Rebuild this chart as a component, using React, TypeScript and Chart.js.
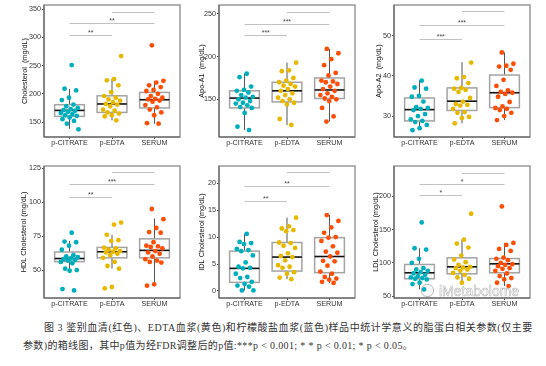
import React, { useEffect, useRef } from "react";
import { Chart, registerables } from "chart.js";
Chart.register(...registerables);

// ---------- shared ----------
const groups = ["p-CITRATE", "p-EDTA", "SERUM"];
const groupColors = ["#00AFBB", "#E7B800", "#FC4E07"];
const bracketPairs = [[0, 1], [0, 2], [1, 2]];

// ---------- Panel 1: Cholesterol ----------
const cholTitle = "Cholesterol  (mg/dL)";
const cholTicks = [150, 200, 250, 300, 350];
const cholRange = [123.4, 357.6];
const cholCitrate = [251, 209, 206, 193, 189, 181, 178, 175, 173, 171, 170, 168, 166, 164, 162, 161, 158, 155, 152, 147, 137];
const cholEdta = [267, 226, 224, 215, 203, 196, 193, 190, 188, 185, 182, 181, 178, 172, 170, 167, 165, 162, 160, 153];
const cholSerum = [286, 223, 220, 215, 212, 207, 205, 200, 196, 193, 191, 190, 188, 186, 180, 176, 172, 167, 162, 148, 147];
const cholBoxCitrate = [138, 160, 170.6, 180.7, 208.5];
const cholBoxEdta = [153, 167, 182, 196.5, 226];
const cholBoxSerum = [147, 175, 189.5, 202.5, 223];
const cholBrackets = [305, 326, 345];
const cholStars = ["**", "**", ""];

// ---------- Panel 2: Apo-A1 ----------
const a1Title = "Apo-A1  (mg/dL)";
const a1Ticks = [150, 200, 250];
const a1Range = [105.9, 260.5];
const a1Citrate = [180, 176, 165, 161, 160, 158, 155, 153, 152, 150, 148, 146, 145, 143, 141, 140, 134, 118, 114];
const a1Edta = [193, 184, 183, 175, 172, 170, 168, 166, 165, 162, 160, 157, 155, 152, 150, 148, 146, 144, 127, 120];
const a1Serum = [209, 204, 197, 190, 181, 178, 172, 171, 170, 168, 165, 162, 160, 157, 155, 153, 151, 150, 148, 140, 130, 124];
const a1BoxCitrate = [114, 140, 151.5, 160, 180];
const a1BoxEdta = [120, 147, 160, 170, 193];
const a1BoxSerum = [124, 151, 161, 175, 209];
const a1Brackets = [225, 238, 252.7];
const a1Stars = ["***", "***", ""];

// ---------- Panel 3: Apo-A2 ----------
const a2Title = "Apo-A2  (mg/dL)";
const a2Ticks = [30, 40, 50];
const a2Range = [24.8, 57.6];
const a2Citrate = [38.8, 37.1, 36.8, 35, 34.8, 33.6, 32.2, 32, 31.8, 31.5, 30.5, 30, 29.2, 28.8, 28.5, 27.8, 27, 26.5];
const a2Edta = [43.3, 39.7, 39.4, 38.2, 37, 36.8, 36.5, 36, 34.5, 33.6, 33, 32.8, 32.6, 31.8, 31, 30.8, 29.8, 29.5, 28.2];
const a2Serum = [45.8, 43, 42.5, 42.3, 41.5, 39, 37.5, 36.4, 36, 35.8, 35.5, 34.8, 33.5, 32.4, 32, 31.8, 31.5, 30.8, 30, 29];
const a2BoxCitrate = [26.5, 28.8, 31.6, 34.5, 38.9];
const a2BoxEdta = [28.2, 31.4, 33.7, 37, 43.4];
const a2BoxSerum = [29, 32.1, 35.8, 40.2, 45.8];
const a2Brackets = [49.2, 52.6, 56];
const a2Stars = ["***", "***", ""];

// ---------- Panel 4: HDL ----------
const hdlTitle = "HDL Cholesterol (mg/dL)";
const hdlTicks = [50, 75, 100, 125];
const hdlRange = [29.4, 126.7];
const hdlCitrate = [77.5, 71, 70.5, 68, 65, 61, 60, 59.5, 58.5, 58, 57.5, 57, 56, 55, 51, 50, 49.5, 36, 35];
const hdlEdta = [85, 83.5, 76, 72, 71.5, 66.5, 66, 65, 64, 63.5, 63, 62, 61, 59, 56, 53, 51, 37.5, 36.5];
const hdlSerum = [95, 87.5, 81, 78, 77.5, 70.5, 68, 67.5, 67, 66, 64, 63, 62, 60, 58, 57, 56, 55.5, 39.5, 38.5];
const hdlBoxCitrate = [49.5, 56.2, 58.5, 63.3, 71.5];
const hdlBoxEdta = [51, 59, 63.5, 66.7, 76];
const hdlBoxSerum = [39.5, 59, 64.5, 73, 88];
const hdlBrackets = [104, 113.4, 122];
const hdlStars = ["**", "***", ""];

// ---------- Panel 5: IDL ----------
const idlTitle = "IDL Cholesterol (mg/dL)";
const idlTicks = [0, 5, 10, 15, 20];
const idlRange = [-1.3, 23.2];
const idlCitrate = [10.6, 9.1, 8.9, 8.7, 7.8, 7.6, 7.4, 6.6, 5.3, 4.5, 4.3, 4.2, 3.2, 2.6, 2.4, 1.7, 1.3, 1.0, 0.8, 0.1, 0.1];
const idlEdta = [13.6, 12, 11.6, 11.3, 11.1, 9.0, 8.9, 8.4, 8.0, 7.0, 6.5, 6.3, 5.7, 4.8, 4.5, 4.3, 3.5, 3.2, 2.5, 2.2];
const idlSerum = [14.1, 13, 11.8, 10.8, 10.0, 9.9, 9.3, 8.3, 7.3, 7.1, 6.4, 5.6, 5.5, 4.7, 3.6, 3.2, 2.6, 2.3, 2.1, 1.7, 1.5];
const idlBoxCitrate = [0.1, 1.6, 4.2, 7.4, 10.6];
const idlBoxEdta = [2.2, 3.7, 6.3, 9, 13.6];
const idlBoxSerum = [1.5, 3.4, 6.4, 9.9, 14.1];
const idlBrackets = [16.7, 19.5, 22];
const idlStars = ["**", "**", ""];

// ---------- Panel 6: LDL ----------
const ldlTitle = "LDL Cholesterol (mg/dL)";
const ldlTicks = [50, 100, 150, 200];
const ldlRange = [47, 246];
const ldlCitrate = [161, 122, 120, 106, 100, 92, 90, 88, 86, 84, 82, 80, 78, 77, 76, 75, 70, 68, 60];
const ldlEdta = [174, 135, 129, 123, 111, 105, 101, 97, 94, 93, 92, 90, 88, 85, 82, 78, 76, 70];
const ldlSerum = [185, 130, 127, 121, 118, 108, 106, 104, 100, 98, 97, 95, 92, 91, 88, 84, 80, 77, 75, 70, 65];
const ldlBoxCitrate = [60, 76, 85, 97.5, 122];
const ldlBoxEdta = [70, 83.5, 94, 107.5, 135];
const ldlBoxSerum = [65, 85, 98.5, 106.5, 130];
const ldlBrackets = [202, 219, 235.5];
const ldlStars = ["*", "*", ""];

const captionLine1 = "图 3 鉴别血清(红色)、EDTA血浆(黄色)和柠檬酸盐血浆(蓝色)样品中统计学意义的脂蛋白相关参数(仅主要";
const captionLine2 = "参数)的箱线图，其中p值为经FDR调整后的p值:***p < 0.001; * * p < 0.01; * p < 0.05。";

// ---------- layout ----------
const colLeft = [44, 219, 394];
const rowTop = [5, 166];
const plotW = 136;
const plotH = 132;
const axisW = 44;
const padTop = 6;
const padRight = 4;
const xAxisH = 14;
const titleOffsets = [18.7, 17.5, 15.5, 20, 17, 18];
const titleSize = 7.3;
const tickSize = 7.2;

const panels = [
  { title: cholTitle, ticks: cholTicks, range: cholRange, pts: [cholCitrate, cholEdta, cholSerum], boxes: [cholBoxCitrate, cholBoxEdta, cholBoxSerum], brackets: cholBrackets, stars: cholStars, col: 0, row: 0 },
  { title: a1Title, ticks: a1Ticks, range: a1Range, pts: [a1Citrate, a1Edta, a1Serum], boxes: [a1BoxCitrate, a1BoxEdta, a1BoxSerum], brackets: a1Brackets, stars: a1Stars, col: 1, row: 0 },
  { title: a2Title, ticks: a2Ticks, range: a2Range, pts: [a2Citrate, a2Edta, a2Serum], boxes: [a2BoxCitrate, a2BoxEdta, a2BoxSerum], brackets: a2Brackets, stars: a2Stars, col: 2, row: 0 },
  { title: hdlTitle, ticks: hdlTicks, range: hdlRange, pts: [hdlCitrate, hdlEdta, hdlSerum], boxes: [hdlBoxCitrate, hdlBoxEdta, hdlBoxSerum], brackets: hdlBrackets, stars: hdlStars, col: 0, row: 1 },
  { title: idlTitle, ticks: idlTicks, range: idlRange, pts: [idlCitrate, idlEdta, idlSerum], boxes: [idlBoxCitrate, idlBoxEdta, idlBoxSerum], brackets: idlBrackets, stars: idlStars, col: 1, row: 1 },
  { title: ldlTitle, ticks: ldlTicks, range: ldlRange, pts: [ldlCitrate, ldlEdta, ldlSerum], boxes: [ldlBoxCitrate, ldlBoxEdta, ldlBoxSerum], brackets: ldlBrackets, stars: ldlStars, col: 2, row: 1 },
];

function jitter(i: number, g: number) {
  const f = ((i + 1) * 0.6180339887 + g * 0.37) % 1;
  return (f - 0.5) * 0.44;
}

function decoPlugin(p: any) {
  return {
    id: "deco",
    beforeDatasetsDraw(chart: any) {
      const { ctx, scales } = chart;
      const x = scales.x, y = scales.y;
      ctx.save();
      p.brackets.forEach((yv: number, k: number) => {
        const [g1, g2] = bracketPairs[k];
        const py = Math.round(y.getPixelForValue(yv)) + 0.5;
        const x1 = x.getPixelForValue(g1 + 1);
        const x2 = x.getPixelForValue(g2 + 1);
        ctx.strokeStyle = "#c2c2c2";
        ctx.lineWidth = 1;
        ctx.beginPath();
        ctx.moveTo(x1, py);
        ctx.lineTo(x2, py);
        ctx.stroke();
        if (p.stars[k]) {
          ctx.fillStyle = "#444";
          ctx.font = "7px 'Liberation Sans'";
          ctx.textAlign = "center";
          ctx.textBaseline = "bottom";
          ctx.fillText(p.stars[k], (x1 + x2) / 2, py + 1);
        }
      });
      p.boxes.forEach((b: number[], gi: number) => {
        const cx = x.getPixelForValue(gi + 1);
        const hw = x.getPixelForValue(gi + 1.35) - cx;
        const [lo, q1, md, q3, hi] = b.map((v) => y.getPixelForValue(v));
        ctx.strokeStyle = "#555";
        ctx.lineWidth = 1;
        ctx.beginPath();
        ctx.moveTo(cx, q3);
        ctx.lineTo(cx, hi);
        ctx.moveTo(cx, q1);
        ctx.lineTo(cx, lo);
        ctx.stroke();
        ctx.fillStyle = "#fff";
        ctx.fillRect(cx - hw, q3, hw * 2, q1 - q3);
        ctx.strokeStyle = "#a3a3a3";
        ctx.lineWidth = 1.5;
        ctx.strokeRect(cx - hw, q3, hw * 2, q1 - q3);
        ctx.strokeStyle = "#111";
        ctx.lineWidth = 1.6;
        ctx.beginPath();
        ctx.moveTo(cx - hw, md);
        ctx.lineTo(cx + hw, md);
        ctx.stroke();
      });
      ctx.restore();
    },
    afterDraw(chart: any) {
      const { ctx, chartArea: a } = chart;
      ctx.save();
      ctx.strokeStyle = "#999";
      ctx.lineWidth = 1.5;
      ctx.strokeRect(a.left, a.top, a.right - a.left, a.bottom - a.top);
      ctx.strokeStyle = "#5a5a5a";
      ctx.lineWidth = 1;
      ctx.beginPath();
      ctx.moveTo(a.left, a.top);
      ctx.lineTo(a.left, a.bottom);
      ctx.lineTo(a.right, a.bottom);
      ctx.stroke();
      ctx.restore();
    },
  };
}

function Panel({ p, idx }: { p: any; idx: number }) {
  const ref = useRef<HTMLCanvasElement | null>(null);
  const w = axisW + plotW + padRight;
  const h = padTop + plotH + xAxisH;
  const left = colLeft[p.col] - axisW;
  const top = rowTop[p.row] - padTop;
  useEffect(() => {
    const datasets = p.pts.map((vals: number[], gi: number) => ({
      data: vals.map((v, i) => ({ x: gi + 1 + jitter(i, gi), y: v })),
      backgroundColor: groupColors[gi],
      borderColor: groupColors[gi],
      borderWidth: 0,
      pointRadius: 2.4,
    }));
    const titlePad = axisW - titleOffsets[idx] - (titleSize * 1.2) / 2;
    const chart = new Chart(ref.current as HTMLCanvasElement, {
      type: "scatter",
      data: { datasets },
      options: {
        animation: false,
        responsive: false,
        devicePixelRatio: 1,
        layout: { padding: { left: 0, top: padTop, right: padRight, bottom: 0 } },
        plugins: { legend: { display: false }, tooltip: { enabled: false } },
        scales: {
          x: {
            type: "linear",
            min: 0.4,
            max: 3.6,
            afterBuildTicks: (s: any) => { s.ticks = groups.map((_, i) => ({ value: i + 1 })); },
            afterFit: (s: any) => { s.height = xAxisH; },
            border: { display: false },
            grid: { display: true, drawOnChartArea: false, drawTicks: true, tickLength: 2, color: "#444" },
            ticks: {
              padding: 0,
              autoSkip: false,
              maxRotation: 0,
              color: "#333",
              font: { family: "'Liberation Sans'", size: tickSize },
              callback: (v: any) => groups[Math.round(v) - 1] ?? "",
            },
          },
          y: {
            type: "linear",
            min: p.range[0],
            max: p.range[1],
            afterBuildTicks: (s: any) => { s.ticks = p.ticks.map((v: number) => ({ value: v })); },
            afterFit: (s: any) => { s.width = axisW; },
            border: { display: false },
            grid: { display: true, drawOnChartArea: false, drawTicks: true, tickLength: 2, color: "#444" },
            ticks: {
              padding: 1,
              color: "#333",
              font: { family: "'Liberation Sans'", size: tickSize },
            },
            title: {
              display: true,
              text: p.title,
              color: "#111",
              padding: { top: titlePad, bottom: 0 },
              font: { family: "'Liberation Sans'", size: titleSize },
            },
          },
        },
      },
      plugins: [decoPlugin(p)],
    } as any);
    return () => chart.destroy();
  }, []);
  return (
    <canvas
      ref={ref}
      width={w}
      height={h}
      style={{ position: "absolute", left, top, width: w, height: h }}
    />
  );
}

export default function App() {
  return (
    <div style={{ position: "fixed", left: 0, top: 0, width: 546, height: 366, background: "#fff", overflow: "hidden" }}>
      {panels.map((p, i) => (
        <Panel key={i} p={p} idx={i} />
      ))}
      <div
        style={{
          position: "absolute",
          left: 421,
          top: 283,
          fontFamily: "'Liberation Sans', sans-serif",
          fontSize: 14,
          color: "rgba(255,255,255,0.9)",
          WebkitTextStroke: "0.5px #b0b0b0",
          whiteSpace: "nowrap",
          lineHeight: "16px",
        } as any}
      >
        <span style={{ display: "inline-block", width: 11, height: 11, borderRadius: 6, border: "1px solid #b8b8b8", marginRight: 5, verticalAlign: "-1px" }} />
        iMetabolome
      </div>
      <div
        style={{
          position: "absolute",
          left: 44,
          top: 321,
          fontFamily: "'Liberation Serif', 'Noto Sans CJK SC', serif",
          fontSize: 10,
          letterSpacing: "0.55px",
          color: "#333",
          whiteSpace: "nowrap",
          lineHeight: "14px",
        }}
      >
        {captionLine1}
      </div>
      <div
        style={{
          position: "absolute",
          left: 23,
          top: 339,
          fontFamily: "'Liberation Serif', 'Noto Sans CJK SC', serif",
          fontSize: 10,
          letterSpacing: "0.35px",
          color: "#333",
          whiteSpace: "nowrap",
          lineHeight: "14px",
        }}
      >
        {captionLine2}
      </div>
    </div>
  );
}
